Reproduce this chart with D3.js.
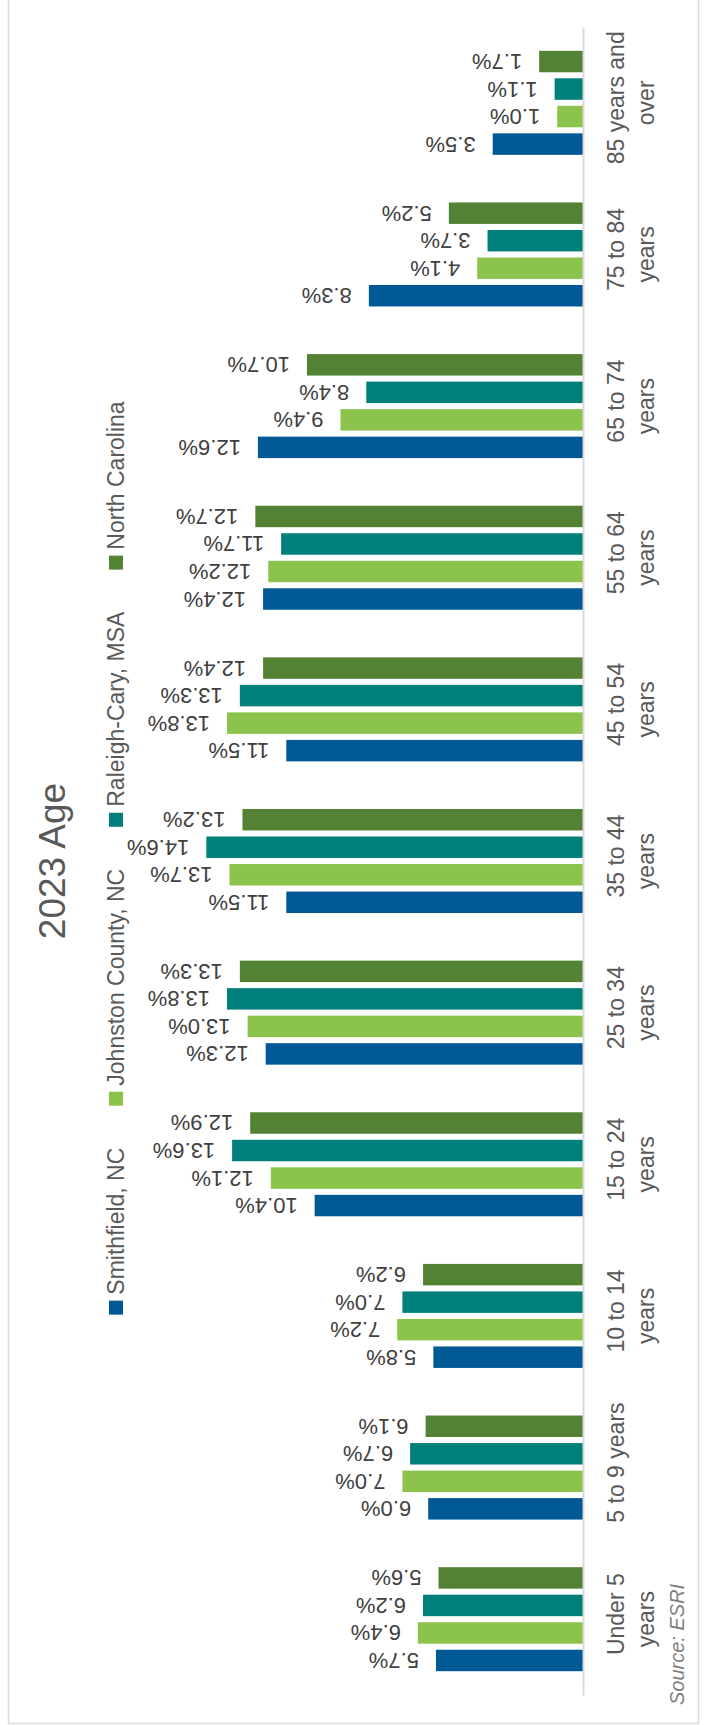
<!DOCTYPE html>
<html>
<head>
<meta charset="utf-8">
<script src="https://cdn.jsdelivr.net/npm/d3@7"></script>
<style>
  html, body { margin: 0; padding: 0; background: #fff; }
  svg { display: block; font-family: "Liberation Sans", Arial, sans-serif; }
</style>
</head>
<body>
<svg id="chart" width="705" height="1725"></svg>
<script>
// ---- data ----
const categories = ["Under 5 years", "5 to 9 years", "10 to 14 years", "15 to 24 years", "25 to 34 years",
  "35 to 44 years", "45 to 54 years", "55 to 64 years", "65 to 74 years", "75 to 84 years", "85 years and over"];
const categoryLines = [["Under 5", "years"], ["5 to 9 years"], ["10 to 14", "years"], ["15 to 24", "years"],
  ["25 to 34", "years"], ["35 to 44", "years"], ["45 to 54", "years"], ["55 to 64", "years"],
  ["65 to 74", "years"], ["75 to 84", "years"], ["85 years and", "over"]];
const seriesNames = ["Smithfield, NC", "Johnston County, NC", "Raleigh-Cary, MSA", "North Carolina"];
const smithfield = [5.7, 6.0, 5.8, 10.4, 12.3, 11.5, 11.5, 12.4, 12.6, 8.3, 3.5];
const johnston   = [6.4, 7.0, 7.2, 12.1, 13.0, 13.7, 13.8, 12.2, 9.4, 4.1, 1.0];
const raleigh    = [6.2, 6.7, 7.0, 13.6, 13.8, 14.6, 13.3, 11.7, 8.4, 3.7, 1.1];
const northCarolina = [5.6, 6.1, 6.2, 12.9, 13.3, 13.2, 12.4, 12.7, 10.7, 5.2, 1.7];
const seriesColors = ["#005995", "#8bc34c", "#007f7d", "#548235"];
const titleText = "2023 Age";
const sourceText = "Source: ESRI";

const seriesValues = [smithfield, johnston, raleigh, northCarolina];

// ---- layout ----
const svg = d3.select("#chart");
const W = 705, H = 1725;
const axisX = 583;
const plotTop = 27, plotBottom = 1695;

svg.append("rect").attr("x", 0).attr("y", 0).attr("width", W).attr("height", H).attr("fill", "#fff");
// frame
svg.append("rect").attr("x", 8.5).attr("y", -2).attr("width", 690).attr("height", 1725.5)
  .attr("fill", "none").attr("stroke", "#d9d9d9").attr("stroke-width", 1.5);

const y = d3.scaleBand().domain(categories.slice().reverse()).range([plotTop, plotBottom])
  .paddingInner(0.314).paddingOuter(0.157);
const ySub = d3.scaleBand().domain(seriesNames.slice().reverse()).range([0, y.bandwidth()])
  .paddingInner(0.22).paddingOuter(0);
const x = d3.scaleLinear().domain([0, 16]).range([axisX, axisX - 16 * 25.8]);

const data = [];
categories.forEach((c, i) => {
  seriesNames.forEach((s, j) => {
    data.push({ cat: c, series: s, value: seriesValues[j][i], color: seriesColors[j] });
  });
});

// bars
svg.append("g").selectAll("rect").data(data).join("rect")
  .attr("x", d => x(d.value))
  .attr("y", d => y(d.cat) + ySub(d.series))
  .attr("width", d => x(0) - x(d.value))
  .attr("height", ySub.bandwidth())
  .attr("fill", d => d.color);

// data labels (upside-down)
svg.append("g").selectAll("text").data(data).join("text")
  .attr("transform", d => `translate(${x(d.value) - 17},${y(d.cat) + ySub(d.series) + ySub.bandwidth() / 2}) rotate(180)`)
  .attr("text-anchor", "start")
  .attr("dominant-baseline", "central")
  .attr("font-size", 22)
  .attr("fill", "#404040")
  .text(d => d.value.toFixed(1) + "%");

// axis line
const axis = d3.axisRight(y).tickSize(0).tickFormat("");
const axisG = svg.append("g").attr("transform", `translate(${axisX},0)`).call(axis);
axisG.select(".domain").attr("stroke", "#d9d9d9").attr("stroke-width", 2);

// category labels (rotated)
const catG = svg.append("g");
categories.forEach((c, i) => {
  const cy = y(c) + y.bandwidth() / 2;
  const lines = categoryLines[i];
  lines.forEach((ln, k) => {
    const bx = k === 0 ? 624 : 654;
    const off = k === 0 ? -5 : 0;
    catG.append("text")
      .attr("transform", `translate(${bx},${cy + off}) rotate(-90)`)
      .attr("text-anchor", "middle")
      .attr("font-size", 23)
      .attr("fill", "#595959")
      .text(ln);
  });
});

// title
svg.append("text")
  .attr("transform", `translate(65,861) rotate(-90)`)
  .attr("text-anchor", "middle")
  .attr("font-size", 37)
  .attr("fill", "#595959")
  .text(titleText);

// legend
const legend = svg.append("g").attr("transform", "translate(123,858) rotate(-90)");
const items = seriesNames.map((s, j) => {
  const g = legend.append("g");
  g.append("rect").attr("x", 0).attr("y", -14).attr("width", 14).attr("height", 14).attr("fill", seriesColors[j]);
  const t = g.append("text").attr("x", 20).attr("y", 1).attr("font-size", 23).attr("fill", "#595959").text(s);
  return { g, w: 20 + t.node().getComputedTextLength() };
});
const gap = 42;
const total = d3.sum(items, d => d.w) + gap * (items.length - 1);
let pos = -total / 2;
items.forEach(it => { it.g.attr("transform", `translate(${pos},0)`); pos += it.w + gap; });

// source
svg.append("text")
  .attr("transform", `translate(684,1705) rotate(-90)`)
  .attr("text-anchor", "start")
  .attr("font-size", 20)
  .attr("font-style", "italic")
  .attr("fill", "#7f7f7f")
  .text(sourceText);
</script>
</body>
</html>
